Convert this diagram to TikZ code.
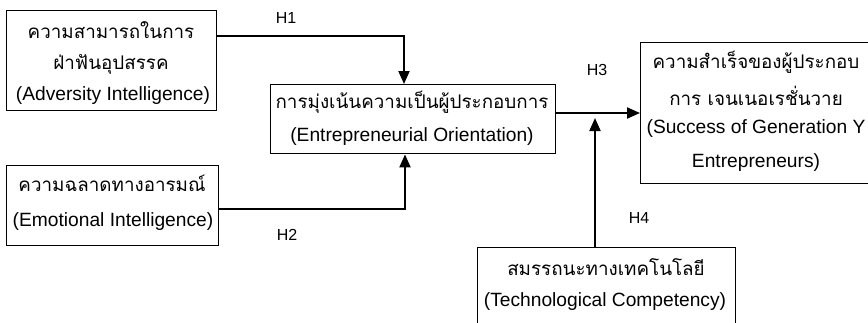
\documentclass[tikz,border=0pt]{standalone}
\usepackage{fontspec}
\setmainfont{Liberation Sans}
\newfontfamily\thaifont[Script=Thai]{Loma}
\usetikzlibrary{arrows.meta}
\begin{document}
\begin{tikzpicture}[x=1pt,y=-1pt,
  box/.style={draw,line width=1.4pt,inner sep=0pt,anchor=north west,align=center},
  txt/.style={inner sep=0pt,font=\fontsize{19.2}{22}\selectfont},
  thai/.style={inner sep=0pt,font=\thaifont\fontsize{18.8}{20}\selectfont},
  hlab/.style={inner sep=0pt,font=\fontsize{16}{17}\selectfont},
  conn/.style={line width=2pt},
  arr/.style={conn,-{Triangle[length=13pt,width=11pt]}}]
\useasboundingbox (0,0) rectangle (868,322);
% boxes
\node[box,minimum width=210pt,minimum height=100pt] (ai) at (6,10) {};
\node[box,minimum width=212pt,minimum height=80pt] (ei) at (6,165) {};
\node[box,minimum width=285pt,minimum height=69pt] (eo) at (270,84) {};
\node[box,minimum width=234pt,minimum height=141pt] (su) at (640,42) {};
\node[box,minimum width=258pt,minimum height=90pt] (tc) at (477,247) {};
% texts
\node[thai] (ai1) at (111,30) {ความสามารถในการ};
\node[thai] (ai2) at (111,64) {ฝ่าฟันอุปสรรค};
\node[txt] (ai3) at (113,96) {(Adversity Intelligence)};
\node[thai] (ei1) at (112,183) {ความฉลาดทางอารมณ์};
\node[txt] (ei2) at (113,222) {(Emotional Intelligence)};
\node[thai] (eo1) at (412,102) {การมุ่งเน้นความเป็นผู้ประกอบการ};
\node[txt] (eo2) at (412,137) {(Entrepreneurial Orientation)};
\node[thai] (su1) at (756,62) {ความสำเร็จของผู้ประกอบ};
\node[thai] (su2) at (756,96) {การ เจนเนอเรชั่นวาย};
\node[txt] (su3) at (756,129) {(Success of Generation Y};
\node[txt] (su4) at (756,163) {Entrepreneurs)};
\node[thai] (tc1) at (606,267) {สมรรถนะทางเทคโนโลยี};
\node[txt] (tc2) at (605,302) {(Technological Competency)};
% labels
\node[hlab] (h1) at (286,18) {H1};
\node[hlab] (h2) at (287,235) {H2};
\node[hlab] (h3) at (597,70) {H3};
\node[hlab] (h4) at (639,218) {H4};
% connectors
\coordinate (c1) at (404,36);
\coordinate (c2) at (405,209);
\coordinate (c4) at (595,118);
\draw[arr] (ai.east |- c1) -- (c1) -- (c1 |- eo.north);
\draw[arr] (ei.east |- c2) -- (c2) -- (c2 |- eo.south);
\draw[arr] (eo.east |- 0,113) -- (su.west |- 0,113);
\draw[arr] (c4 |- tc.north) -- (c4);
\end{tikzpicture}
\end{document}
